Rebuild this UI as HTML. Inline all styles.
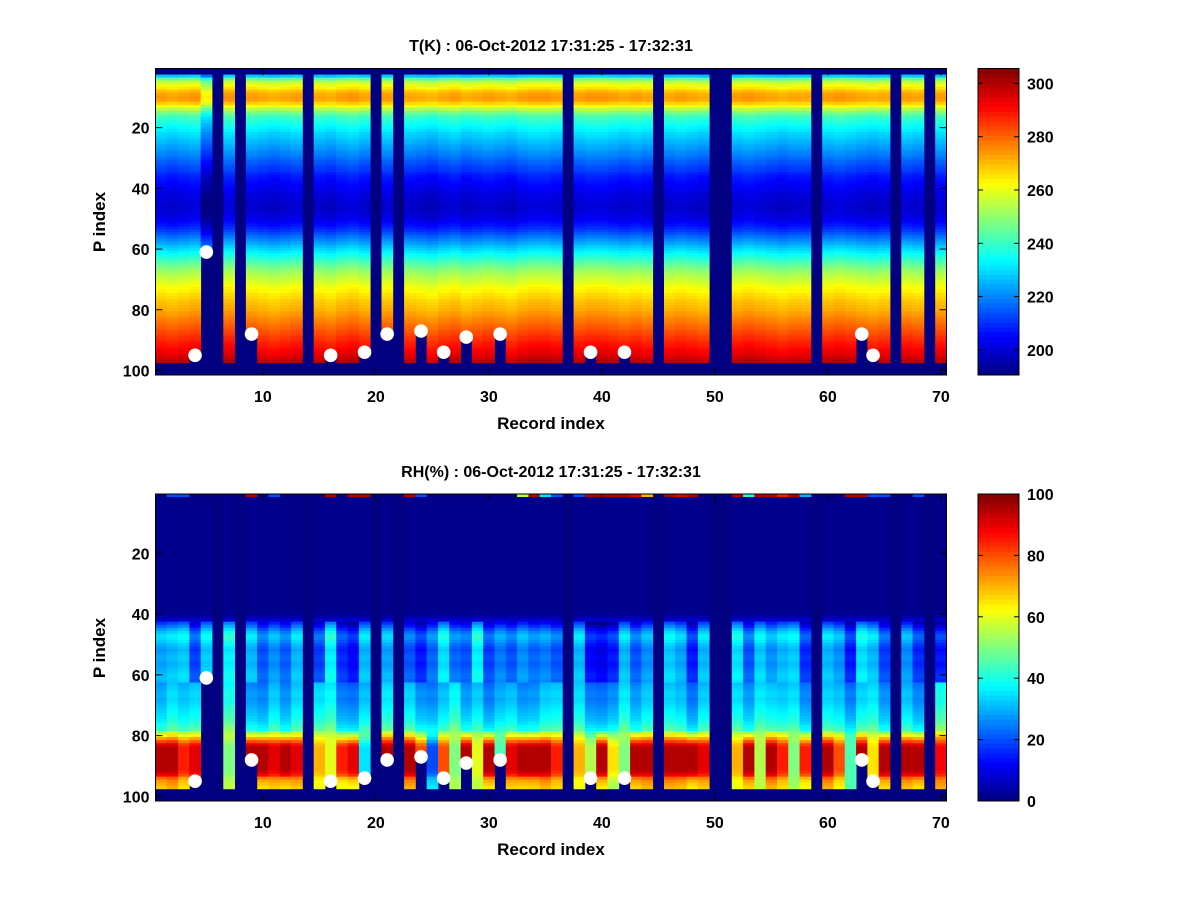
<!DOCTYPE html>
<html><head><meta charset="utf-8">
<style>
html,body{margin:0;padding:0;background:#fff;}
svg text{font-family:"Liberation Sans",sans-serif;font-weight:bold;fill:#000;}
</style></head>
<body>
<svg id="fig" xmlns="http://www.w3.org/2000/svg" width="1200" height="900" viewBox="0 0 1200 900">
<rect width="1200" height="900" fill="#fff"/>
<g id="p1"></g>
<g id="p2"></g>
<text x="551" y="51" font-size="16" text-anchor="middle">T(K) : 06-Oct-2012 17:31:25 - 17:32:31</text>
<text x="551" y="477" font-size="16" text-anchor="middle">RH(%) : 06-Oct-2012 17:31:25 - 17:32:31</text>
<text x="551" y="429" font-size="17" text-anchor="middle">Record index</text>
<text x="551" y="855" font-size="17" text-anchor="middle">Record index</text>
<text x="0" y="0" font-size="17" text-anchor="middle" transform="translate(105,222) rotate(-90)">P index</text>
<text x="0" y="0" font-size="17" text-anchor="middle" transform="translate(105,648) rotate(-90)">P index</text>
</svg>
<script>
const missingRecords=[6,8,14,20,22,37,45,50,51,59,66,69];
const surfRec=[4,5,9,16,19,21,24,26,28,31,39,42,63,64];
const surfLev=[95,61,88,95,94,88,87,94,89,88,94,94,88,95];
const tProfile=[null,null,226,244,254,259,263,268,271,272,271,266,259,252,246,241,238,236,234,232,230,228,227,225,224,222,221,219,218,216,214,213,211,210,208,206,205,204,203,202,201,200,199,199,198,198,198,199,200,201,203,205,207,210,213,216,219,222,225,228,231,234,237,240,243,246,249,251,253,255,257,259,261,262,264,265,267,268,269,270,272,273,275,276,278,279,281,282,284,285,287,288,290,291,293,295,297,null,null,null,null];
const tOffset=[2,1,2,3,-8,0,3,0,2,1,0,1,2,0,1,0,2,3,1,0,2,0,1,0,-1,1,2,0,1,2,1,0,2,3,3,2,0,2,3,3,2,1,2,1,0,1,2,1,0,0,0,2,3,2,1,0,1,1,0,2,3,2,1,0,1,0,2,1,0,2];
const rhBase=[0,1,1,1,1,1,1,1,1,1,1,1,1,1,1,1,1,1,1,1,1,1,1,1,1,1,1,1,1,1,1,1,1,1,1,1,1,1,1,2,4,8,13,18,23,27,30,30,28,26,24,23,24,25,25,24,24,25,26,27,27,26,27,28,29,30,30,29,30,31,32,33,34,35,36,38,40,42,45,48,50,50,50,50,50,50,50,50,50,50,50,50,50,50,50,50,50,null,null,null,null];
const rhW=[0,0,0,0,0,0,0,0,0,0,0,0,0,0,0,0,0,0,0,0,0,0,0,0,0,0,0,0,0,0,0,0,0,0,0,0,0,0,0,0,0,0,0,0,0,0,0,0,0,0,0,0,0,0,0,0,0,0,0,0,0,0,0,0,0,0,0,0,0,0,0,0,0,0,0,0,0,0,0.15,0.3,0.5,0.7,0.9,1,1,1,1,1,1,1,1,0.95,0.85,0.6,0.5,0.45,0.4,0,0,0,0];
const rhLow=[95,95,85,90,0,0,50,0,95,95,90,95,90,0,70,60,85,90,35,0,95,0,95,80,20,80,50,95,60,95,45,90,95,95,95,85,0,70,55,95,65,50,95,95,0,95,95,95,90,0,0,70,95,55,95,85,50,85,0,95,80,45,95,65,95,0,95,95,0,88];
const rhMidOff=[0,5,2,4,6,0,10,0,-2,-4,3,-3,4,0,5,8,-5,-6,2,0,6,0,4,-3,-4,2,8,-2,3,-5,0,2,-3,-2,3,4,0,5,-5,-6,-3,6,-2,3,0,4,2,-6,3,0,0,5,-2,6,4,3,5,-4,0,4,2,-5,4,6,-3,0,2,-4,0,10];
const rhUpOff=[4,6,8,-6,8,0,12,0,6,-4,2,-3,6,0,-6,12,-8,-12,6,0,4,0,-4,-10,-2,10,-2,-4,12,-6,0,-4,2,-2,0,-4,0,6,-12,-14,-10,6,-4,2,0,8,4,-10,6,0,0,10,-4,8,2,6,8,-8,0,6,2,-10,10,6,-6,0,2,-8,0,-10];
const rhTop=[0,20,20,0,0,0,0,0,95,0,20,0,0,0,0,95,0,95,95,0,0,0,95,20,0,0,0,0,0,0,0,0,55,95,35,20,20,20,95,95,95,95,90,70,55,95,90,95,0,10,0,95,40,95,95,85,95,30,95,0,0,95,95,20,20,20,0,20,0,0];
const xTicks=[10,20,30,40,50,60,70];
const yTicks=[20,40,60,80,100];
const tCbTicks=[200,220,240,260,280,300];
const rhCbTicks=[0,20,40,60,80,100];

const NS="http://www.w3.org/2000/svg";
function jet(v){v=Math.max(0,Math.min(1,v));
 const f=c=>Math.round(255*Math.max(0,Math.min(1,1.5-Math.abs(4*v-c))));
 return "rgb("+f(3)+","+f(2)+","+f(1)+")";}
function mk(parent,tag,attrs){const e=document.createElementNS(NS,tag);for(const k in attrs)e.setAttribute(k,attrs[k]);parent.appendChild(e);return e;}
const X0=155.5,DX=11.3;
function xs(r){return X0+(r-0.5)*DX;}

function panel(g,top,bottom,valueFn,vmin,vmax,cbTicks){
 const dy=(bottom-top)/101;
 const ys=L=>top+(L-0.5)*dy;
 const bg=mk(g,"rect",{x:X0,y:top,width:70*DX,height:bottom-top,fill:jet(0)});
 
 
 for(let r=1;r<=70;r++){
  if(missingRecords.includes(r))continue;
  const si=surfRec.indexOf(r);const sl=si>=0?surfLev[si]:999;
  for(let L=1;L<=101;L++){
   if(L>=sl)continue;
   const v=valueFn(r,L);if(v===null)continue;
   const c=mk(g,"rect",{x:xs(r-0.5).toFixed(2),y:ys(L-0.5).toFixed(2),width:(DX+0.4).toFixed(2),height:(dy+0.4).toFixed(2),fill:jet((v-vmin)/(vmax-vmin))});
   
   
  }
 }
 for(let i=0;i<surfRec.length;i++){
  const d=mk(g,"circle",{cx:xs(surfRec[i]),cy:ys(surfLev[i]),r:6.8,fill:"#fff"});
  
  
 }
 const fr=mk(g,"rect",{x:X0,y:top,width:70*DX,height:bottom-top,fill:"none",stroke:"#000","stroke-width":1});
 
 
 for(const t of xTicks){
  const x=xs(t);
  mk(g,"line",{x1:x,x2:x,y1:bottom,y2:bottom-7,stroke:"#000"});
  mk(g,"line",{x1:x,x2:x,y1:top,y2:top+7,stroke:"#000"});
  const tx=mk(g,"text",{x:x,y:bottom+27,"font-size":16,"text-anchor":"middle"});tx.textContent=t;
  
  
 }
 for(const t of yTicks){
  const y=ys(t);
  mk(g,"line",{x1:X0,x2:X0+7,y1:y,y2:y,stroke:"#000"});
  mk(g,"line",{x1:X0+70*DX,x2:X0+70*DX-7,y1:y,y2:y,stroke:"#000"});
  const tx=mk(g,"text",{x:X0-6,y:y+6,"font-size":16,"text-anchor":"end"});tx.textContent=t;
  
  
 }
 const cx=978,cw=41,n=64,h=(bottom-top)/n;
 for(let i=0;i<n;i++){
  const s=mk(g,"rect",{x:cx,y:(bottom-(i+1)*h).toFixed(2),width:cw,height:(h+0.4).toFixed(2),fill:jet((i+0.5)/n)});
  
  
 }
 const cf=mk(g,"rect",{x:cx,y:top,width:cw,height:bottom-top,fill:"none",stroke:"#000"});
 
 
 for(const t of cbTicks){
  const y=bottom-(t-vmin)/(vmax-vmin)*(bottom-top);
  mk(g,"line",{x1:cx,x2:cx+5,y1:y,y2:y,stroke:"#000"});
  mk(g,"line",{x1:cx+cw,x2:cx+cw-5,y1:y,y2:y,stroke:"#000"});
  const tx=mk(g,"text",{x:cx+cw+8,y:y+6,"font-size":16});tx.textContent=t;
  
  
 }
}
panel(document.getElementById("p1"),68.5,375,(r,L)=>{
 const p=tProfile[L-1];if(p===null||p===undefined)return null;return p+tOffset[r-1];
},190.6,305.6,tCbTicks);
panel(document.getElementById("p2"),494,801,(r,L)=>{
 if(L===1)return rhTop[r-1];
 const b=rhBase[L-1];if(b===null||b===undefined)return null;
 const w=rhW[L-1];
 let mid=b;
 if(b>10){mid=b+(L<=62?rhUpOff[r-1]:rhMidOff[r-1]);}
 return (1-w)*mid+w*rhLow[r-1];
},0,100,rhCbTicks);
</script>
</body></html>
